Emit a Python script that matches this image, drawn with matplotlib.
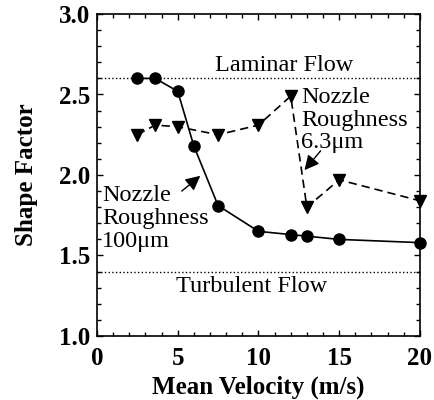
import matplotlib
matplotlib.use("Agg")
import matplotlib.pyplot as plt
from matplotlib.ticker import MultipleLocator, FormatStrFormatter

# Data
vel_100 = [2.5, 3.6, 5.0, 6.0, 7.5, 10.0, 12.0, 13.0, 15.0, 20.0]
sf_100 = [2.60, 2.60, 2.52, 2.18, 1.81, 1.65, 1.63, 1.62, 1.60, 1.58]
vel_63 = [2.5, 3.6, 5.0, 7.5, 10.0, 12.0, 13.0, 15.0, 20.0]
sf_63 = [2.25, 2.31, 2.30, 2.25, 2.31, 2.49, 1.80, 1.97, 1.84]
laminar = 2.6
turbulent = 1.4

plt.rcParams['font.family'] = ['Liberation Serif', 'DejaVu Serif']

fig = plt.figure(figsize=(4.34, 4.0), dpi=100)
ax = fig.add_axes([0.2235, 0.16, 0.744, 0.805])

ax.plot([0, 20], [laminar, laminar], linestyle=':', color='black', lw=1.0)
ax.plot([0, 20], [turbulent, turbulent], linestyle=':', color='black', lw=1.0)

ax.plot(vel_100, sf_100, '-o', color='black', lw=1.2, markersize=8, clip_on=False, zorder=3)
ax.plot(vel_63, sf_63, linestyle=(0, (5, 3)), marker='v', color='black', lw=1.2,
        markersize=8, clip_on=False, zorder=3)

fs = 17.5
ax.text(11.6, laminar + 0.012, 'Laminar Flow', ha='center', va='bottom', fontsize=fs)
ax.text(9.6, turbulent - 0.025, 'Turbulent Flow', ha='center', va='top', fontsize=fs)

ax.text(12.65, 2.545, 'Nozzle\nRoughness\n6.3\u03bcm', ha='left', va='top', fontsize=fs,
        linespacing=1.1)
ax.annotate('', xy=(12.85, 2.03), xytext=(13.85, 2.15),
            arrowprops=dict(arrowstyle='-|>', color='black', lw=1.0, mutation_scale=22,
                            shrinkA=0, shrinkB=0))

ax.text(0.3, 1.935, 'Nozzle\nRoughness\n100\u03bcm', ha='left', va='top', fontsize=fs,
        linespacing=1.1)
ax.annotate('', xy=(6.4, 1.995), xytext=(5.25, 1.90),
            arrowprops=dict(arrowstyle='-|>', color='black', lw=1.0, mutation_scale=22,
                            shrinkA=0, shrinkB=0))

ax.set_xlim(0, 20)
ax.set_ylim(1.0, 3.0)
ax.xaxis.set_major_locator(MultipleLocator(5))
ax.xaxis.set_minor_locator(MultipleLocator(1))
ax.yaxis.set_major_locator(MultipleLocator(0.5))
ax.yaxis.set_minor_locator(MultipleLocator(0.1))
ax.yaxis.set_major_formatter(FormatStrFormatter('%.1f'))
ax.tick_params(which='both', direction='in', top=True, right=True, width=1.0)
ax.tick_params(which='major', length=4)
ax.tick_params(which='minor', length=3)
ax.tick_params(axis='y', labelsize=18, pad=5)
ax.tick_params(axis='x', labelsize=18, pad=8)
for lab in ax.get_xticklabels() + ax.get_yticklabels():
    lab.set_fontweight('bold')
for sp in ax.spines.values():
    sp.set_linewidth(1.2)

ax.set_xlabel('Mean Velocity (m/s)', fontsize=18, fontweight='bold', labelpad=4)
ax.set_ylabel('Shape Factor', fontsize=18, fontweight='bold', labelpad=15)

fig.savefig('out.png', dpi=100)
